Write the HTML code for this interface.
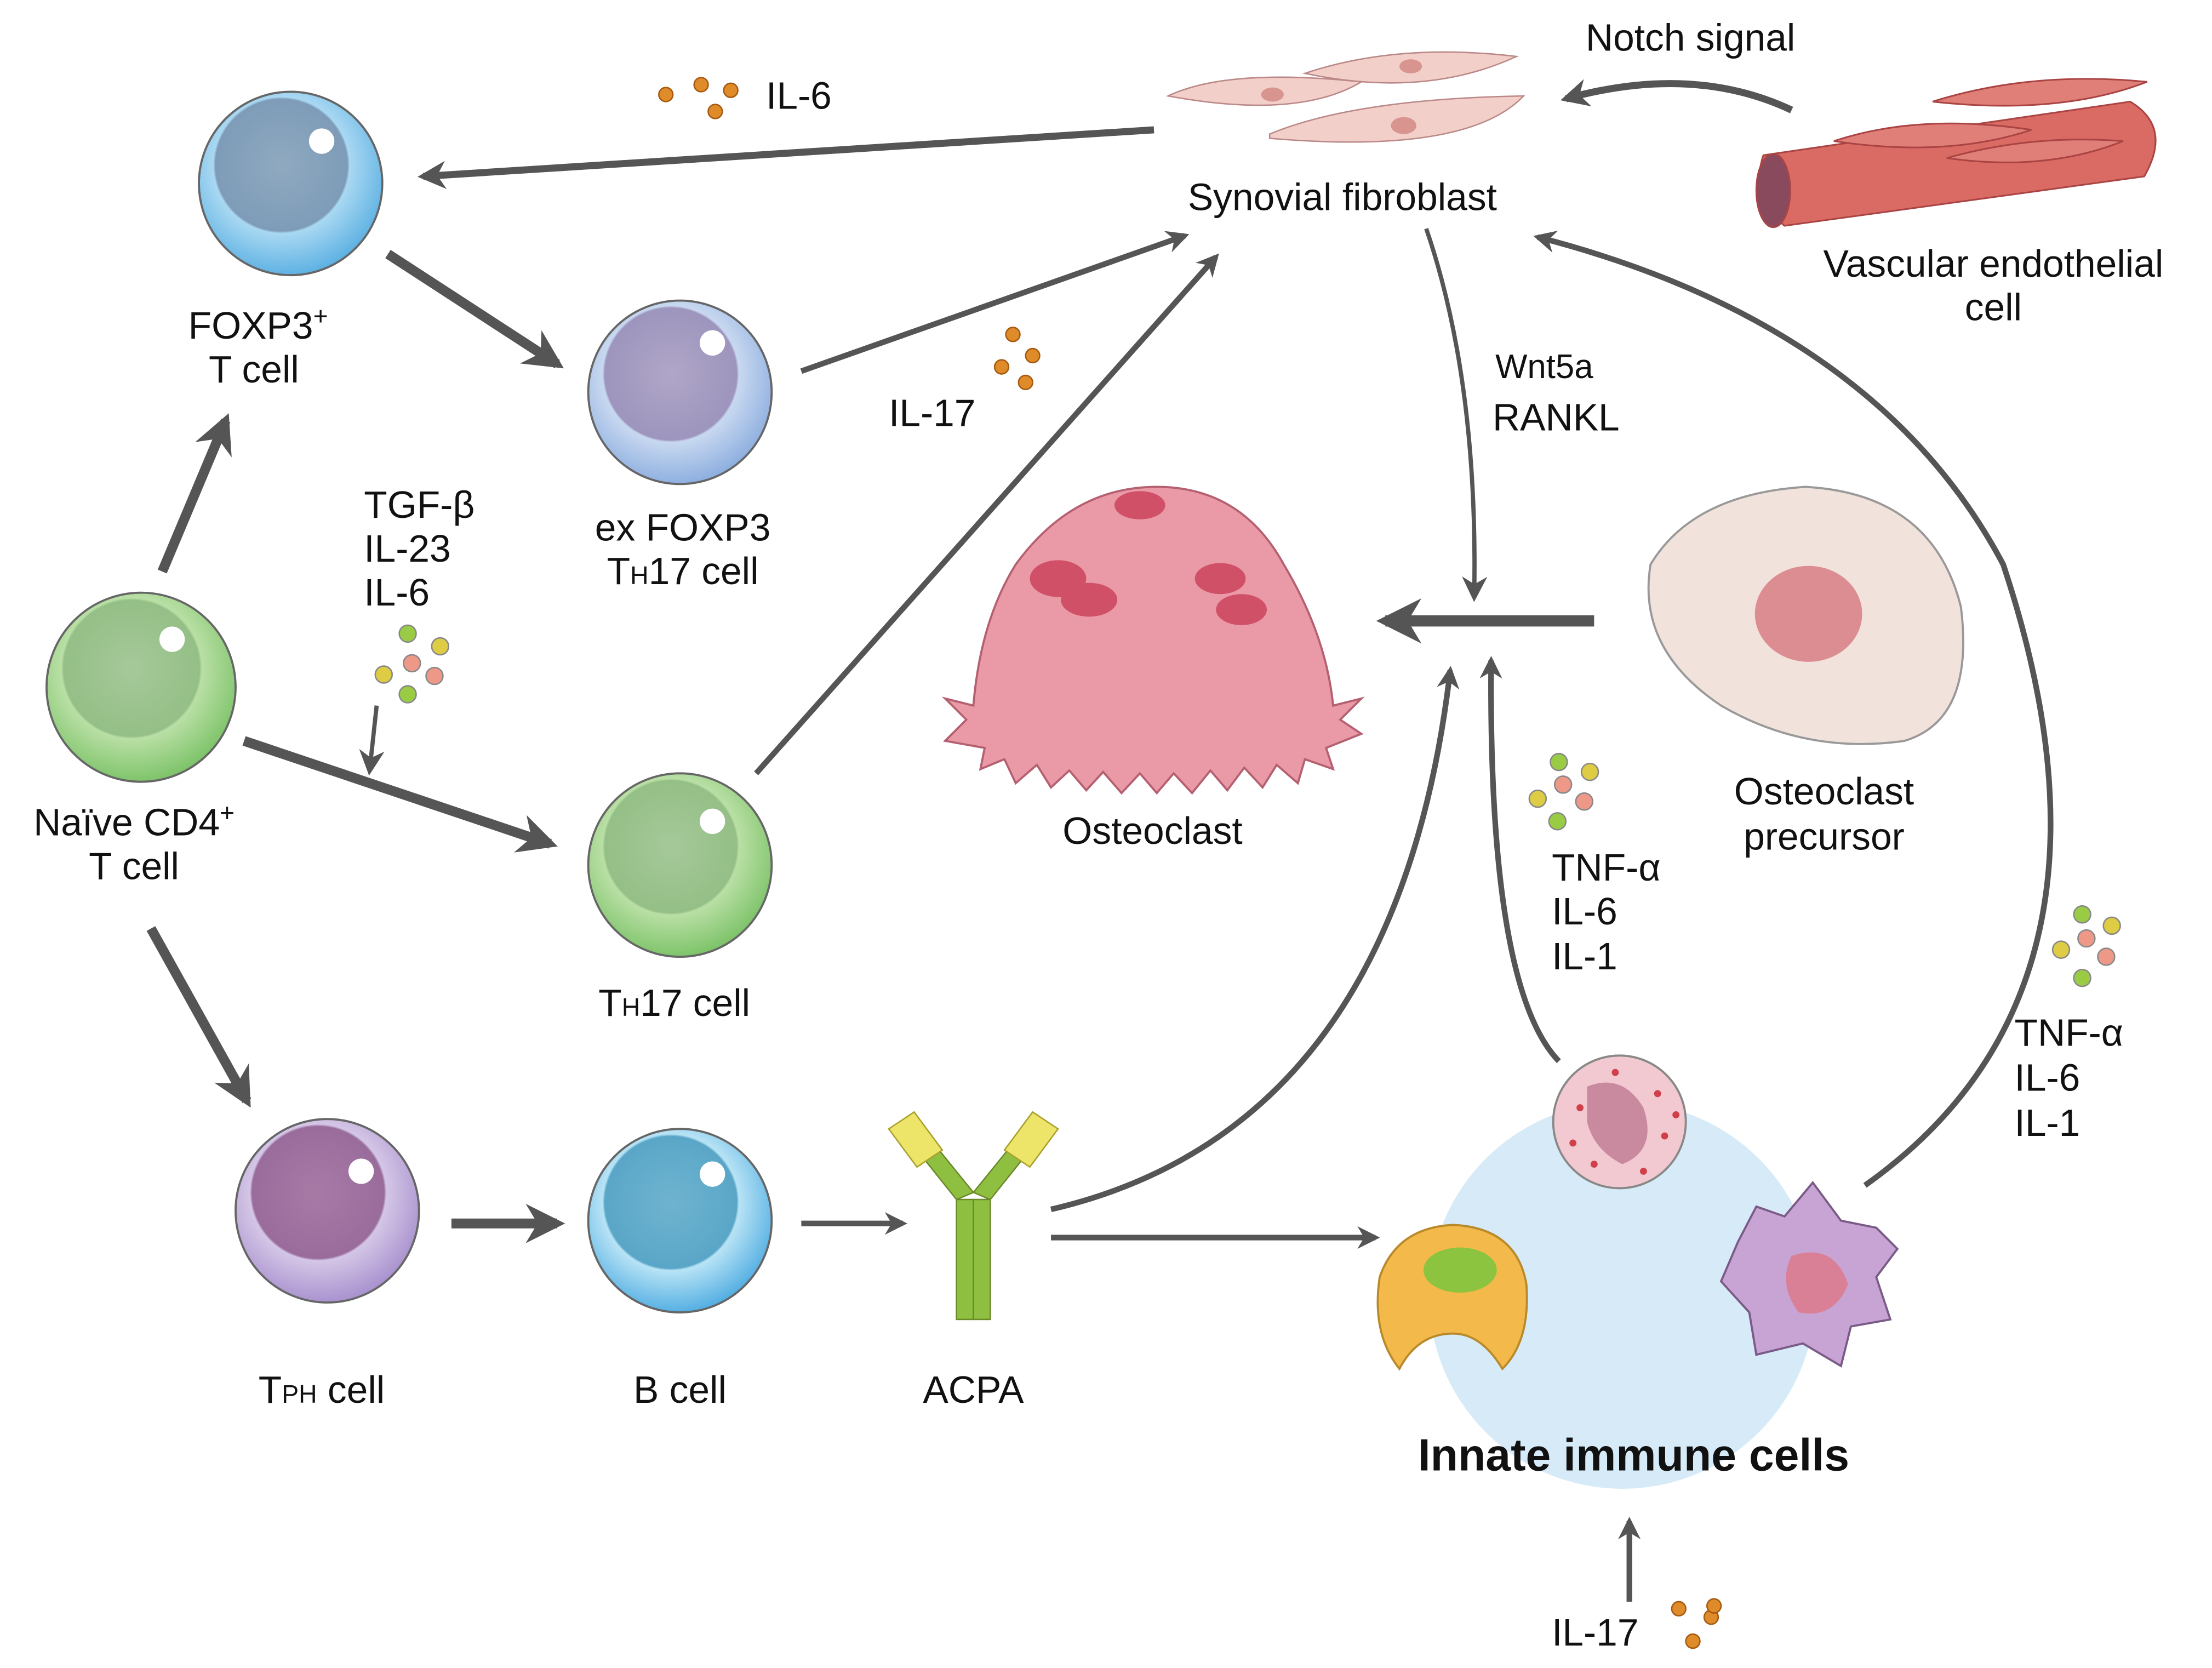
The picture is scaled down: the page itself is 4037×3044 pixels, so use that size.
<!DOCTYPE html>
<html><head><meta charset="utf-8"><style>
html,body{margin:0;padding:0;background:#fff;}
svg{display:block;}
text{font-family:"Liberation Sans",sans-serif;fill:#111;}
</style></head><body>
<svg width="4037" height="3044" viewBox="0 0 1568 1182" preserveAspectRatio="none" xmlns="http://www.w3.org/2000/svg">
<defs>
<marker id="ah" viewBox="0 0 10 10" refX="8" refY="5" markerWidth="4" markerHeight="4" orient="auto" markerUnits="strokeWidth"><path d="M0,0 L10,5 L0,10 L3,5 z" fill="#555"/></marker>
<marker id="ahs" viewBox="0 0 10 10" refX="8" refY="5" markerWidth="6" markerHeight="6" orient="auto" markerUnits="strokeWidth"><path d="M0,0 L10,5 L0,10 L3,5 z" fill="#555"/></marker>
<radialGradient id="gB" cx="0.45" cy="0.4" r="0.6"><stop offset="0" stop-color="#8fa9c0"/><stop offset="0.6" stop-color="#7e9cb8"/><stop offset="0.62" stop-color="#a9d8f2"/><stop offset="1" stop-color="#5fb2e3"/></radialGradient>
<radialGradient id="gL" cx="0.45" cy="0.4" r="0.6"><stop offset="0" stop-color="#b0a6c8"/><stop offset="0.6" stop-color="#9d95bd"/><stop offset="0.62" stop-color="#c8d8f0"/><stop offset="1" stop-color="#8fb0e0"/></radialGradient>
<radialGradient id="gG" cx="0.45" cy="0.4" r="0.6"><stop offset="0" stop-color="#a6c99a"/><stop offset="0.6" stop-color="#94bf86"/><stop offset="0.62" stop-color="#b9dfa5"/><stop offset="1" stop-color="#7fc46b"/></radialGradient>
<radialGradient id="gP" cx="0.45" cy="0.4" r="0.6"><stop offset="0" stop-color="#a77aa6"/><stop offset="0.6" stop-color="#9a6c9c"/><stop offset="0.62" stop-color="#d4c6e6"/><stop offset="1" stop-color="#aa93cf"/></radialGradient>
<radialGradient id="gBc" cx="0.45" cy="0.4" r="0.6"><stop offset="0" stop-color="#6fb4cf"/><stop offset="0.6" stop-color="#5aa6c8"/><stop offset="0.62" stop-color="#b8e3f5"/><stop offset="1" stop-color="#56b0e3"/></radialGradient>
</defs>

<circle cx="1150" cy="918" r="137" fill="#d6ebf7"/>

<g stroke="#666" stroke-width="1.5">
<circle cx="206" cy="130" r="65" fill="url(#gB)"/>
<circle cx="482" cy="278" r="65" fill="url(#gL)"/>
<circle cx="100" cy="487" r="67" fill="url(#gG)"/>
<circle cx="482" cy="613" r="65" fill="url(#gG)"/>
<circle cx="232" cy="858" r="65" fill="url(#gP)"/>
<circle cx="482" cy="865" r="65" fill="url(#gBc)"/>
</g>
<g fill="#fff">
<circle cx="228" cy="100" r="9"/><circle cx="505" cy="243" r="9"/><circle cx="122" cy="453" r="9"/>
<circle cx="505" cy="582" r="9"/><circle cx="256" cy="830" r="9"/><circle cx="505" cy="832" r="9"/>
</g>

<!-- fibroblasts -->
<g fill="#f2cfc8" stroke="#b88" stroke-width="1">
<path d="M828,68 Q870,48 965,58 Q920,85 828,68z"/>
<path d="M925,52 Q990,30 1075,40 Q1010,70 925,52z"/>
<path d="M900,95 Q960,70 1080,68 Q1040,110 900,98z"/>
</g>
<g fill="#d8948e"><ellipse cx="902" cy="67" rx="8" ry="5"/><ellipse cx="1000" cy="47" rx="8" ry="5"/><ellipse cx="995" cy="89" rx="9" ry="6"/></g>

<!-- vessel -->
<g stroke="#a44" stroke-width="1.2">
<path d="M1250,110 L1510,72 Q1540,90 1520,125 L1265,160 Q1240,140 1250,110z" fill="#d96b64"/>
<ellipse cx="1257" cy="135" rx="12" ry="26" fill="#8a4a5e"/>
<path d="M1370,72 Q1440,50 1522,58 Q1460,82 1370,72z" fill="#e07f77"/>
<path d="M1300,100 Q1360,80 1440,92 Q1380,112 1300,100z" fill="#e07f77"/>
<path d="M1380,112 Q1440,95 1505,100 Q1450,122 1380,112z" fill="#e07f77"/>
</g>

<!-- osteoclast -->
<path d="M690,500 Q695,440 720,400 Q760,345 820,345 Q880,345 910,400 Q940,450 945,500 L965,495 L950,510 L965,520 L940,530 L945,545 L925,538 L920,555 L905,542 L895,558 L882,544 L870,560 L858,546 L845,562 L832,548 L820,562 L808,548 L795,562 L782,547 L770,560 L758,546 L745,558 L735,542 L720,555 L712,538 L695,545 L698,530 L670,525 L685,510 L670,495z" fill="#e99aa6" stroke="#b56070" stroke-width="1.5"/>
<g fill="#d05068"><ellipse cx="808" cy="358" rx="18" ry="10"/><ellipse cx="750" cy="410" rx="20" ry="13"/><ellipse cx="772" cy="425" rx="20" ry="12"/><ellipse cx="865" cy="410" rx="18" ry="11"/><ellipse cx="880" cy="432" rx="18" ry="11"/></g>

<path d="M1170,400 Q1200,350 1280,345 Q1370,350 1390,430 Q1400,510 1350,525 Q1280,535 1220,500 Q1160,460 1170,400z" fill="#f2e2dc" stroke="#999" stroke-width="1.5"/>
<ellipse cx="1282" cy="435" rx="38" ry="34" fill="#dc8d92"/>

<!-- neutrophil -->
<circle cx="1148" cy="795" r="47" fill="#f2c9d0" stroke="#888" stroke-width="1.5"/>
<path d="M1125,770 Q1150,760 1165,785 Q1175,815 1150,825 Q1130,815 1125,795z" fill="#c98aa0"/>
<g fill="#d0404a"><circle cx="1120" cy="785" r="2.5"/><circle cx="1175" cy="775" r="2.5"/><circle cx="1180" cy="805" r="2.5"/><circle cx="1130" cy="825" r="2.5"/><circle cx="1165" cy="830" r="2.5"/><circle cx="1145" cy="760" r="2.5"/><circle cx="1115" cy="810" r="2.5"/><circle cx="1188" cy="790" r="2.5"/></g>
<!-- macrophage -->
<path d="M978,905 Q990,870 1030,868 Q1075,870 1082,910 Q1085,950 1065,970 Q1050,945 1030,945 Q1005,945 992,970 Q972,945 978,905z" fill="#f3b94b" stroke="#b98a2a" stroke-width="1.5"/>
<ellipse cx="1035" cy="900" rx="26" ry="16" fill="#8dc43f"/>
<!-- dendritic -->
<path d="M1232,880 L1245,855 L1265,862 L1285,838 L1305,865 L1330,870 L1345,885 L1330,905 L1340,935 L1312,940 L1305,968 L1278,952 L1245,960 L1240,930 L1220,908z" fill="#c7a4d3" stroke="#7a5a87" stroke-width="1.5"/>
<path d="M1270,890 Q1300,880 1310,910 Q1300,935 1275,930 Q1260,910 1270,890z" fill="#d97f96"/>

<!-- ACPA -->
<g fill="#8fbf40" stroke="#6a8a2a" stroke-width="1">
<rect x="678" y="850" width="12" height="85"/><rect x="690" y="850" width="12" height="85"/>
<path d="M678,850 L650,815 L660,808 L690,845z"/><path d="M702,850 L730,815 L720,808 L690,845z"/>
</g>
<g fill="#ece56a" stroke="#a8a02a" stroke-width="1">
<path d="M630,800 L648,788 L668,815 L650,827z"/><path d="M750,800 L732,788 L712,815 L730,827z"/>
</g>

<g fill="#e08b2a" stroke="#a55a10" stroke-width="1">
<circle cx="472" cy="67" r="5"/><circle cx="497" cy="60" r="5"/><circle cx="518" cy="64" r="5"/><circle cx="507" cy="79" r="5"/>
<circle cx="718" cy="237" r="5"/><circle cx="732" cy="252" r="5"/><circle cx="710" cy="260" r="5"/><circle cx="727" cy="271" r="5"/>
<circle cx="1190" cy="1140" r="5"/><circle cx="1213" cy="1146" r="5"/><circle cx="1200" cy="1163" r="5"/><circle cx="1215" cy="1138" r="5"/>
</g>
<g stroke="#888" stroke-width="1">
<circle cx="289" cy="449" r="6" fill="#9c4"/><circle cx="272" cy="478" r="6" fill="#dc4"/><circle cx="292" cy="470" r="6" fill="#e98"/><circle cx="312" cy="458" r="6" fill="#dc4"/><circle cx="308" cy="479" r="6" fill="#e98"/><circle cx="289" cy="492" r="6" fill="#9c4"/>
<circle cx="1105" cy="540" r="6" fill="#9c4"/><circle cx="1090" cy="566" r="6" fill="#dc4"/><circle cx="1108" cy="556" r="6" fill="#e98"/><circle cx="1127" cy="547" r="6" fill="#dc4"/><circle cx="1123" cy="568" r="6" fill="#e98"/><circle cx="1104" cy="582" r="6" fill="#9c4"/>
<circle cx="1476" cy="648" r="6" fill="#9c4"/><circle cx="1461" cy="673" r="6" fill="#dc4"/><circle cx="1479" cy="665" r="6" fill="#e98"/><circle cx="1497" cy="656" r="6" fill="#dc4"/><circle cx="1493" cy="678" r="6" fill="#e98"/><circle cx="1476" cy="693" r="6" fill="#9c4"/>
</g>

<g stroke="#555" fill="none" stroke-linecap="butt">
<line x1="818" y1="92" x2="300" y2="125" stroke-width="5" marker-end="url(#ah)"/>
<path d="M1270,78 Q1200,45 1110,70" stroke-width="5" marker-end="url(#ah)"/>
<line x1="275" y1="180" x2="395" y2="258" stroke-width="7" marker-end="url(#ah)"/>
<line x1="568" y1="263" x2="840" y2="167" stroke-width="4" marker-end="url(#ah)"/>
<line x1="536" y1="548" x2="862" y2="182" stroke-width="4" marker-end="url(#ah)"/>
<line x1="115" y1="405" x2="160" y2="298" stroke-width="7" marker-end="url(#ah)"/>
<line x1="173" y1="525" x2="390" y2="598" stroke-width="7" marker-end="url(#ah)"/>
<line x1="107" y1="658" x2="175" y2="780" stroke-width="7" marker-end="url(#ah)"/>
<line x1="267" y1="500" x2="262" y2="546" stroke-width="3" marker-end="url(#ahs)"/>
<line x1="320" y1="867" x2="395" y2="867" stroke-width="7" marker-end="url(#ah)"/>
<line x1="568" y1="867" x2="640" y2="867" stroke-width="4" marker-end="url(#ah)"/>
<line x1="745" y1="877" x2="975" y2="877" stroke-width="4" marker-end="url(#ah)"/>
<path d="M745,857 Q990,800 1028,475" stroke-width="4" marker-end="url(#ah)"/>
<path d="M1105,752 Q1055,700 1057,468" stroke-width="4" marker-end="url(#ah)"/>
<path d="M1011,162 Q1048,270 1045,423" stroke-width="3" marker-end="url(#ahs)"/>
<line x1="1130" y1="440" x2="982" y2="440" stroke-width="8" marker-end="url(#ah)"/>
<path d="M1322,840 Q1520,700 1420,400 Q1330,230 1090,168" stroke-width="4" marker-end="url(#ah)"/>
<line x1="1155" y1="1135" x2="1155" y2="1078" stroke-width="4" marker-end="url(#ah)"/>
</g>

<g font-size="27">
<text x="1124" y="36">Notch signal</text>
<text x="543" y="77">IL-6</text>
<text x="842" y="149">Synovial fibroblast</text>
<text x="1413" y="196" text-anchor="middle">Vascular endothelial</text>
<text x="1413" y="227" text-anchor="middle">cell</text>
<text x="183" y="240" text-anchor="middle">FOXP3<tspan font-size="18" dy="-10">+</tspan></text>
<text x="180" y="271" text-anchor="middle">T cell</text>
<text x="630" y="302">IL-17</text>
<text x="1060" y="268" font-size="24">Wnt5a</text>
<text x="1058" y="305">RANKL</text>
<text x="258" y="367">TGF-β</text>
<text x="258" y="398">IL-23</text>
<text x="258" y="429">IL-6</text>
<text x="484" y="383" text-anchor="middle">ex FOXP3</text>
<text x="484" y="414" text-anchor="middle">T<tspan font-size="18">H</tspan>17 cell</text>
<text x="1293" y="570" text-anchor="middle">Osteoclast</text>
<text x="1293" y="602" text-anchor="middle">precursor</text>
<text x="95" y="592" text-anchor="middle">Naïve CD4<tspan font-size="18" dy="-10">+</tspan></text>
<text x="95" y="623" text-anchor="middle">T cell</text>
<text x="817" y="598" text-anchor="middle">Osteoclast</text>
<text x="1100" y="624">TNF-α</text>
<text x="1100" y="655">IL-6</text>
<text x="1100" y="687">IL-1</text>
<text x="478" y="720" text-anchor="middle">T<tspan font-size="18">H</tspan>17 cell</text>
<text x="1428" y="741">TNF-α</text>
<text x="1428" y="773">IL-6</text>
<text x="1428" y="805">IL-1</text>
<text x="228" y="994" text-anchor="middle">T<tspan font-size="18">PH</tspan> cell</text>
<text x="482" y="994" text-anchor="middle">B cell</text>
<text x="690" y="994" text-anchor="middle">ACPA</text>
<text x="1158" y="1042" text-anchor="middle" font-weight="bold" font-size="32">Innate immune cells</text>
<text x="1100" y="1166">IL-17</text>
</g>
</svg>
</body></html>
